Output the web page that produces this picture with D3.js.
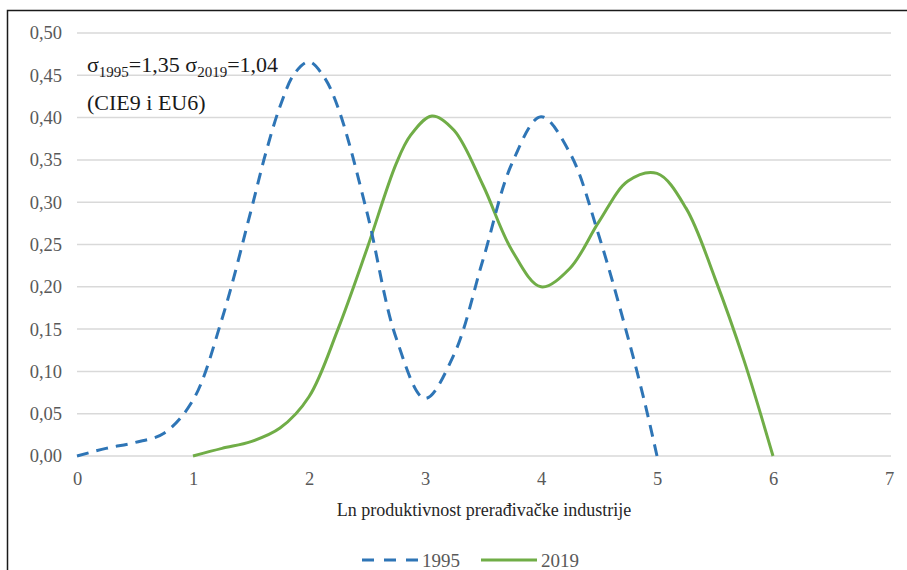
<!DOCTYPE html>
<html>
<head>
<meta charset="utf-8">
<script src="https://cdn.jsdelivr.net/npm/d3@7"></script>
<style>
body { margin: 0; background: #fff; }
</style>
</head>
<body>
<svg id="chart"></svg>
<script>
var screen = {width: 907, height: 570};
var margins = {top: 33, right: 18, bottom: 114, left: 77};
var serif = "'Liberation Serif', 'Times New Roman', serif";

// x values (ln productivity) and densities
var x1995 = [0, 0.25, 0.5, 0.75, 1, 1.25, 1.5, 1.625, 1.75, 1.875, 2, 2.125, 2.25, 2.5, 2.75, 3, 3.25, 3.5, 3.75, 4, 4.25, 4.5, 4.75, 4.9, 5];
var y1995 = [0, 0.009, 0.016, 0.027, 0.066, 0.162, 0.29, 0.357, 0.413, 0.452, 0.466, 0.449, 0.412, 0.288, 0.14, 0.068, 0.12, 0.232, 0.346, 0.401, 0.358, 0.26, 0.14, 0.06, 0];

var x2019 = [1, 1.25, 1.5, 1.75, 2, 2.25, 2.5, 2.75, 2.875, 3.06, 3.25, 3.5, 3.75, 4, 4.25, 4.5, 4.75, 5, 5.25, 5.5, 5.75, 6];
var y2019 = [0, 0.009, 0.017, 0.033, 0.07, 0.15, 0.245, 0.345, 0.379, 0.402, 0.385, 0.32, 0.243, 0.2, 0.222, 0.277, 0.325, 0.334, 0.293, 0.21, 0.113, 0];

var xTicks = [0, 1, 2, 3, 4, 5, 6, 7];
var yTicks = [0, 0.05, 0.10, 0.15, 0.20, 0.25, 0.30, 0.35, 0.40, 0.45, 0.50];

var seriesNames = ["1995", "2019"];
var seriesColors = ["#2E75B6", "#70AD47"];

var svg = d3.select("#chart")
    .attr("width", screen.width)
    .attr("height", screen.height)
    .attr("font-family", serif);

// outer frame (only top and left edges are inside the picture)
svg.append("rect")
    .attr("x", 7.5).attr("y", 10.5)
    .attr("width", 960).attr("height", 620)
    .attr("fill", "none")
    .attr("stroke", "#1a1a1a")
    .attr("stroke-width", 1.5);

var g = svg.append("g")
    .attr("transform", "translate(" + margins.left + "," + margins.top + ")");

var xScale = d3.scaleLinear().domain([0, 7]).range([0, 812]);
var yScale = d3.scaleLinear().domain([0, 0.5]).range([423, 0]);

// gridlines
g.append("g")
    .selectAll("line")
    .data(yTicks)
    .enter()
    .append("line")
    .attr("x1", 0)
    .attr("x2", xScale(7) + 2)
    .attr("y1", function(d) { return yScale(d); })
    .attr("y2", function(d) { return yScale(d); })
    .attr("stroke", "#d9d9d9")
    .attr("stroke-width", 1.5);

var fmt = function(d) { return d3.format(".2f")(d).replace(".", ","); };

var yAxis = d3.axisLeft(yScale).tickValues(yTicks).tickFormat(fmt).tickSize(0).tickPadding(15);
var xAxis = d3.axisBottom(xScale).tickValues(xTicks).tickFormat(d3.format("d")).tickSize(0).tickPadding(16);

g.append("g").call(yAxis)
    .attr("font-family", serif)
    .call(function(a) { a.select(".domain").remove(); })
    .selectAll("text")
    .attr("fill", "#595959")
    .style("font-family", serif)
    .style("font-size", "18.5px");

g.append("g").attr("transform", "translate(0," + yScale(0) + ")").call(xAxis)
    .attr("font-family", serif)
    .call(function(a) { a.select(".domain").remove(); })
    .selectAll("text")
    .attr("fill", "#595959")
    .style("font-family", serif)
    .style("font-size", "18.5px");

// axis title
svg.append("text")
    .attr("x", 484).attr("y", 516)
    .attr("text-anchor", "middle")
    .attr("fill", "#262626")
    .style("font-size", "18px")
    .text("Ln produktivnost prerađivačke industrije");

var line = d3.line()
    .x(function(d) { return xScale(d[0]); })
    .y(function(d) { return yScale(d[1]); })
    .curve(d3.curveCatmullRom.alpha(0.5));

var data1995 = x1995.map(function(x, i) { return [x, y1995[i]]; });
var data2019 = x2019.map(function(x, i) { return [x, y2019[i]]; });

g.append("path")
    .datum(data2019)
    .attr("fill", "none")
    .attr("stroke", seriesColors[1])
    .attr("stroke-width", 3)
    .attr("d", line);

g.append("path")
    .datum(data1995)
    .attr("fill", "none")
    .attr("stroke", seriesColors[0])
    .attr("stroke-width", 3)
    .attr("stroke-dasharray", "12,8")
    .attr("d", line);

// annotation
var note = svg.append("text")
    .attr("x", 87).attr("y", 72)
    .attr("fill", "#1a1a1a")
    .style("font-size", "22px");
note.append("tspan").text("σ");
note.append("tspan").attr("dy", 5).style("font-size", "15px").text("1995");
note.append("tspan").attr("dy", -5).text("=1,35 σ");
note.append("tspan").attr("dy", 5).style("font-size", "15px").text("2019");
note.append("tspan").attr("dy", -5).text("=1,04");

svg.append("text")
    .attr("x", 87).attr("y", 110)
    .attr("fill", "#1a1a1a")
    .style("font-size", "22px")
    .text("(CIE9 i EU6)");

// legend
var legend = svg.append("g");
var legendX = [362, 481];
seriesNames.forEach(function(name, i) {
    legend.append("line")
        .attr("x1", legendX[i]).attr("x2", legendX[i] + 56)
        .attr("y1", 560).attr("y2", 560)
        .attr("stroke", seriesColors[i])
        .attr("stroke-width", 3)
        .attr("stroke-dasharray", i == 0 ? "12,10" : null);
    legend.append("text")
        .attr("x", legendX[i] + 60).attr("y", 567)
        .attr("fill", "#595959")
        .style("font-size", "19px")
        .text(name);
});
</script>
</body>
</html>
